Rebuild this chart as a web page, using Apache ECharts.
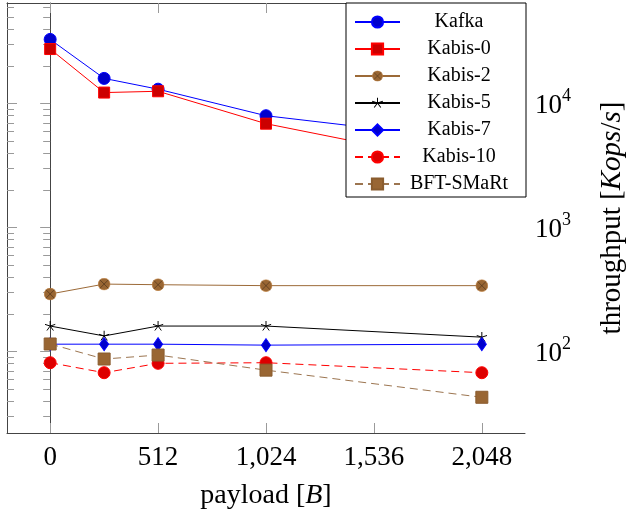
<!DOCTYPE html>
<html>
<head>
<meta charset="utf-8">
<script src="https://cdn.jsdelivr.net/npm/echarts@6/dist/echarts.min.js"></script>
<style>
  html, body { margin: 0; padding: 0; background: #fff; }
  #chart { width: 626px; height: 514px; }
</style>
</head>
<body>
<div id="chart"></div>
<script>
const payload = [0, 256, 512, 1024, 2048]
const kafka = [33000, 16000, 13100, 8000, 5000]
const kabis0 = [27600, 12300, 12600, 6900, 3100]
const kabis2 = [292, 351, 347, 341, 341]
const kabis5 = [161, 134, 161, 161, 131]
const kabis7 = [115, 115, 115, 113, 115]
const kabis10 = [81.5, 67.7, 80.6, 81.5, 67.7]
const bftSmart = [115.4, 87.3, 94, 71, 42.9]

const xTicks = [0, 512, 1024, 1536, 2048]
const yMajor = [100, 1000, 10000]
const yMinor = [30, 40, 50, 60, 70, 80, 90, 200, 300, 400, 500, 600, 700, 800, 900,
  2000, 3000, 4000, 5000, 6000, 7000, 8000, 9000, 20000, 30000, 40000, 50000, 60000]

const FONT = '"Liberation Serif", "DejaVu Serif", serif'
const TICK = '#9a9a9a'
const FRAME = '#444'

function svgSymbol(svg) {
  return 'image://data:image/svg+xml;utf8,' + encodeURIComponent(svg)
}
// pgfplots "star": five strokes from the centre
const starMark = svgSymbol(
  '<svg xmlns="http://www.w3.org/2000/svg" width="20" height="20" viewBox="-5 -5 10 10">' +
  '<path d="M0 0L0 -5M0 0L4.76 -1.55M0 0L2.94 4.05M0 0L-2.94 4.05M0 0L-4.76 -1.55" ' +
  'stroke="#000" stroke-width="0.9" fill="none"/></svg>')
// pgfplots "otimes*": filled circle with a cross
const otimesMark = svgSymbol(
  '<svg xmlns="http://www.w3.org/2000/svg" width="24" height="24" viewBox="-6 -6 12 12">' +
  '<circle cx="0" cy="0" r="5.5" fill="#996633" stroke="#bf8040" stroke-width="0.6"/>' +
  '<path d="M-3.9 -3.9L3.9 3.9M3.9 -3.9L-3.9 3.9" stroke="#4a3018" stroke-width="0.6"/></svg>')

function pairs(ys) {
  return payload.map((x, i) => [x, ys[i]])
}
function withCommas(v) {
  return String(v).replace(/\B(?=(\d{3})+(?!\d))/g, ',')
}

function line(name, ys, opts) {
  return {
    name: name,
    type: 'line',
    data: pairs(ys),
    symbol: opts.symbol,
    symbolSize: opts.size,
    showSymbol: true,
    lineStyle: { color: opts.line, width: 1, type: opts.dash ? [8, 5] : 'solid' },
    itemStyle: { color: opts.fill, borderColor: opts.border || opts.line, borderWidth: opts.border === 'none' ? 0 : 1 },
    emphasis: { disabled: true }
  }
}

const chart = echarts.init(document.getElementById('chart'))

function yAxisOf(side, values, len, labels) {
  return {
    type: 'log',
    position: side,
    min: 22.1,
    max: 64900,
    splitLine: { show: false },
    axisLine: { show: !!labels || side === 'left', lineStyle: { color: FRAME, width: 1 } },
    axisTick: { show: true, inside: true, length: len, customValues: values, lineStyle: { color: TICK } },
    axisLabel: labels ? {
      show: true,
      margin: 10,
      customValues: yMajor,
      formatter: v => '{b|10}{s|' + Math.round(Math.log10(v)) + '}',
      rich: {
        b: { fontFamily: FONT, fontSize: 27, color: '#000', verticalAlign: 'bottom', lineHeight: 32 },
        s: { fontFamily: FONT, fontSize: 18, color: '#000', verticalAlign: 'top', lineHeight: 32 }
      }
    } : { show: false }
  }
}

const rightMain = yAxisOf('right', yMajor, 10, true)
rightMain.name = '{t|throughput [}{i|Kops}{t|/}{i|s}{t|]}'
rightMain.nameLocation = 'middle'
rightMain.nameGap = 73
rightMain.nameTextStyle = {
  rich: {
    t: { fontFamily: FONT, fontSize: 29, color: '#000' },
    i: { fontFamily: FONT, fontSize: 29, fontStyle: 'italic', color: '#000' }
  }
}

const option = {
  animation: false,
  backgroundColor: '#fff',
  grid: { left: 7, right: 101, top: 3, bottom: 81, outerBoundsMode: 'none', containLabel: false },
  legend: {
    orient: 'vertical',
    left: 346,
    top: 3,
    padding: [9, 13, 3, 8],
    itemWidth: 45,
    itemHeight: 14,
    itemGap: 7,
    backgroundColor: '#fff',
    borderColor: '#000',
    borderWidth: 1,
    borderRadius: 0,
    selectedMode: false,
    formatter: name => '{a|' + name + '}',
    textStyle: {
      rich: {
        a: { fontFamily: FONT, fontSize: 20, lineHeight: 14, width: 108, align: 'center', color: '#000' }
      }
    },
    data: ['Kafka', 'Kabis-0', 'Kabis-2', 'Kabis-5', 'Kabis-7', 'Kabis-10', 'BFT-SMaRt']
  },
  xAxis: [
    {
      type: 'value',
      min: -204.8,
      max: 2252.8,
      splitLine: { show: false },
      axisLine: { show: true, lineStyle: { color: FRAME, width: 1 } },
      axisTick: { show: true, inside: true, length: 10, customValues: xTicks, lineStyle: { color: TICK } },
      axisLabel: {
        show: true,
        margin: 11,
        customValues: xTicks,
        formatter: withCommas,
        fontFamily: FONT,
        fontSize: 27,
        color: '#000'
      },
      name: '{t|payload [}{i|B}{t|]}',
      nameLocation: 'middle',
      nameGap: 49,
      nameTextStyle: {
        rich: {
          t: { fontFamily: FONT, fontSize: 28, color: '#000' },
          i: { fontFamily: FONT, fontSize: 28, fontStyle: 'italic', color: '#000' }
        }
      }
    },
    {
      type: 'value',
      position: 'top',
      min: -204.8,
      max: 2252.8,
      splitLine: { show: false },
      axisLine: { show: true, lineStyle: { color: FRAME, width: 1 } },
      axisTick: { show: true, inside: true, length: 10, customValues: xTicks, lineStyle: { color: TICK } },
      axisLabel: { show: false }
    }
  ],
  yAxis: [
    rightMain,
    yAxisOf('right', yMinor, 7, false),
    yAxisOf('left', yMajor, 10, false),
    yAxisOf('left', yMinor, 7, false)
  ],
  series: [
    line('Kafka', kafka, { symbol: 'circle', size: 12, line: '#0000ff', fill: '#0000cc' }),
    line('Kabis-0', kabis0, { symbol: 'rect', size: 11, line: '#ff0000', fill: '#cc0000' }),
    line('Kabis-2', kabis2, { symbol: otimesMark, size: 13, line: '#9c6a38', fill: '#996633', border: 'none' }),
    line('Kabis-5', kabis5, { symbol: starMark, size: 11, line: '#000000', fill: '#000000', border: 'none' }),
    line('Kabis-7', kabis7, { symbol: 'diamond', size: [9, 13], line: '#0000ff', fill: '#0000cc' }),
    line('Kabis-10', kabis10, { symbol: 'circle', size: 12, line: '#ff0000', fill: '#dd0000', dash: true }),
    line('BFT-SMaRt', bftSmart, { symbol: 'rect', size: 12, line: '#9c7550', fill: '#996633', border: '#8a5c2e', dash: true })
  ]
}

chart.setOption(option)

window.addEventListener('resize', () => {
  chart.resize()
})
</script>
</body>
</html>
